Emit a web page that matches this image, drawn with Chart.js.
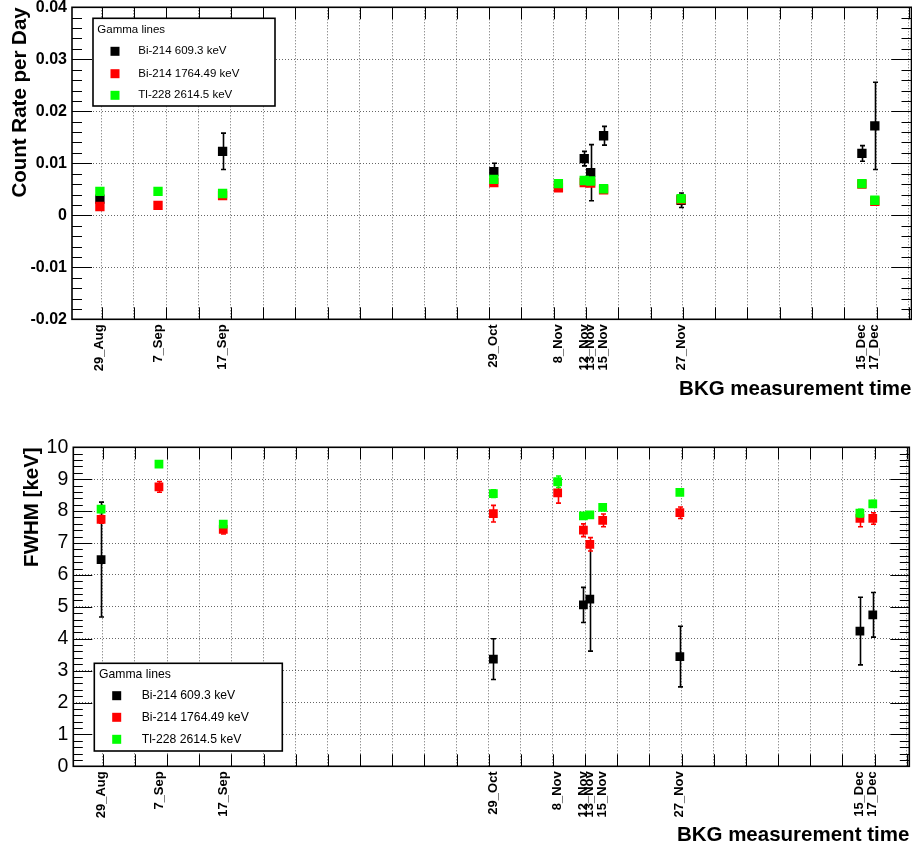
<!DOCTYPE html>
<html><head><meta charset="utf-8">
<script src="https://cdn.jsdelivr.net/npm/chart.js@4/dist/chart.umd.min.js"></script>
<style>
html,body{margin:0;padding:0;background:#fff;}
#wrap{position:relative;width:912px;height:852px;overflow:hidden;}
#c1{position:absolute;left:0;top:0;}
#c2{position:absolute;left:0;top:402px;}
</style></head><body>
<div id="wrap"><canvas id="c1" width="912" height="402"></canvas><canvas id="c2" width="912" height="450"></canvas></div>
<script>
// ---------- data ----------
const dateLabels = ['29_Aug','7_Sep','17_Sep','29_Oct','8_Nov','12_Nov','13_Nov','15_Nov','27_Nov','15_Dec','17_Dec'];
const dateDays   = [0, 9, 19, 61, 71, 75, 76, 78, 90, 118, 120];
const seriesNames = ['Bi-214 609.3 keV','Bi-214 1764.49 keV','Tl-228 2614.5 keV'];
const seriesColors = ['#000000','#ff0000','#00ff00'];

const rateBi609      = [0.0031, null, 0.0123, 0.0084, null, 0.0109, 0.0082, 0.0153, 0.0029, 0.0119, 0.0172];
const rateBi609Err   = [0.0006, null, 0.0035, 0.0016, null, 0.0014, 0.0054, 0.0018, 0.0014, 0.0015, 0.0084];
const rateBi1764     = [0.0017, 0.0019, 0.0038, 0.0063, 0.0053, 0.0063, 0.0062, 0.0049, 0.0030, 0.0060, 0.0027];
const rateBi1764Err  = [0.0004, 0.0004, 0.0004, 0.0004, 0.0004, 0.0004, 0.0004, 0.0004, 0.0004, 0.0004, 0.0004];
const rateTl2614     = [0.0046, 0.0046, 0.0042, 0.0069, 0.0061, 0.0067, 0.0066, 0.0051, 0.0032, 0.0061, 0.0029];
const rateTl2614Err  = [0.0003, 0.0003, 0.0003, 0.0003, 0.0003, 0.0003, 0.0003, 0.0003, 0.0003, 0.0003, 0.0003];

const fwhmBi609      = [6.48, null, null, 3.36, null, 5.06, 5.24, null, 3.44, 4.24, 4.75];
const fwhmBi609Err   = [1.80, null, null, 0.64, null, 0.55, 1.63, null, 0.95, 1.06, 0.70];
const fwhmBi1764     = [7.74, 8.76, 7.43, 7.92, 8.57, 7.40, 6.96, 7.71, 7.95, 7.77, 7.77];
const fwhmBi1764Err  = [0.12, 0.17, 0.15, 0.26, 0.32, 0.20, 0.21, 0.20, 0.18, 0.26, 0.18];
const fwhmTl2614     = [8.06, 9.47, 7.59, 8.55, 8.92, 7.85, 7.88, 8.12, 8.59, 7.94, 8.23];
const fwhmTl2614Err  = [0.10, 0.08, 0.08, 0.12, 0.18, 0.10, 0.10, 0.10, 0.08, 0.12, 0.10];

const rateTicks      = [-0.02, -0.01, 0, 0.01, 0.02, 0.03, 0.04];
const rateTickLabels = ['-0.02','-0.01','0','0.01','0.02','0.03','0.04'];
const fwhmTicks      = [0,1,2,3,4,5,6,7,8,9,10];
const fwhmTickLabels = ['0','1','2','3','4','5','6','7','8','9','10'];

// ---------- helpers ----------
const FAMILY = "'Liberation Sans', Arial, Helvetica, sans-serif";
const X_MIN = -4.32, X_MAX = 125.68, X_GRID_START = 0.27, X_GRID_STEP = 5;
const gridDays = [];
for (let v = X_GRID_START; v < X_MAX; v += X_GRID_STEP) gridDays.push(+v.toFixed(2));
const GRID_COLOR = 'rgba(0,0,0,0.6)';

function pts(vals, errs) {
  const out = [];
  vals.forEach((v, i) => { if (v !== null) out.push({x: dateDays[i], y: v, err: errs[i] || 0}); });
  return out;
}

const rootFrame = {
  id: 'rootFrame',
  beforeDatasetsDraw(chart, args, o) {
    const {ctx, chartArea: a, scales: {x, y}} = chart;
    ctx.save();
    ctx.strokeStyle = '#000';
    ctx.lineWidth = 1;
    const n = Math.round((o.yMax - o.yMin) / o.yMinor);
    const per = Math.round(o.yMajor / o.yMinor);
    for (let k = 0; k <= n; k++) {
      const v = o.yMin + k * o.yMinor;
      const py = Math.round(y.getPixelForValue(v)) + 0.5;
      const len = (k % per === 0) ? o.yMajorLen : o.yMinorLen;
      ctx.beginPath();
      ctx.moveTo(a.left, py); ctx.lineTo(a.left + len, py);
      ctx.moveTo(a.right - len, py); ctx.lineTo(a.right, py);
      ctx.stroke();
    }
    gridDays.forEach(v => {
      const px = Math.round(x.getPixelForValue(v)) + 0.5;
      ctx.beginPath();
      ctx.moveTo(px, a.bottom); ctx.lineTo(px, a.bottom - o.xLen);
      ctx.moveTo(px, a.top); ctx.lineTo(px, a.top + o.xLen);
      ctx.stroke();
    });
    ctx.lineWidth = 1.6;
    ctx.strokeRect(a.left, a.top, a.right - a.left, a.bottom - a.top);
    ctx.restore();
  }
};

const errorBars = {
  id: 'errorBars',
  beforeDatasetDraw(chart, args) {
    const {ctx, chartArea: a} = chart;
    const ds = chart.data.datasets[args.index];
    const meta = args.meta;
    const ys = chart.scales[meta.yAxisID];
    ctx.save();
    ctx.beginPath();
    ctx.rect(a.left, a.top, a.right - a.left, a.bottom - a.top);
    ctx.clip();
    ctx.strokeStyle = ds.backgroundColor;
    ctx.lineWidth = 1.6;
    meta.data.forEach((el, i) => {
      const p = ds.data[i];
      if (!p || !p.err) return;
      const x = Math.round(el.x) + 0.5;
      const y1 = ys.getPixelForValue(p.y + p.err);
      const y2 = ys.getPixelForValue(p.y - p.err);
      ctx.beginPath();
      ctx.moveTo(x, y1); ctx.lineTo(x, y2);
      ctx.moveTo(x - 2.5, y1); ctx.lineTo(x + 2.5, y1);
      ctx.moveTo(x - 2.5, y2); ctx.lineTo(x + 2.5, y2);
      ctx.stroke();
    });
    ctx.restore();
  }
};

const boxLegend = {
  id: 'boxLegend',
  afterDraw(chart, args, o) {
    const {ctx} = chart;
    ctx.save();
    ctx.fillStyle = '#fff';
    ctx.fillRect(o.left, o.top, o.width, o.height);
    ctx.strokeStyle = '#000';
    ctx.lineWidth = 1.6;
    ctx.strokeRect(o.left, o.top, o.width, o.height);
    ctx.fillStyle = '#000';
    ctx.font = o.fontSize + 'px ' + FAMILY;
    ctx.textBaseline = 'middle';
    ctx.textAlign = 'left';
    ctx.fillText(o.title, o.left + o.titleDx, o.top + o.titleDy);
    chart.data.datasets.forEach((ds, i) => {
      const cy = o.top + o.rowDy[i];
      ctx.fillStyle = ds.backgroundColor;
      ctx.fillRect(o.left + o.markerDx - o.markerSize / 2, cy - o.markerSize / 2, o.markerSize, o.markerSize);
      ctx.fillStyle = '#000';
      ctx.fillText(ds.label, o.left + o.textDx, cy);
    });
    ctx.restore();
  }
};

function makeChart(canvas, cfg) {
  const datasets = cfg.series.map((s, i) => ({
    label: seriesNames[i],
    data: pts(s[0], s[1]),
    backgroundColor: seriesColors[i],
    borderColor: seriesColors[i],
    pointStyle: 'rect',
    pointRadius: cfg.pointRadius,
    pointHoverRadius: cfg.pointRadius,
    pointBorderWidth: 0,
    showLine: false,
    order: 3 - i
  }));
  return new Chart(canvas, {
    type: 'scatter',
    data: {datasets},
    plugins: [rootFrame, errorBars, boxLegend],
    options: {
      responsive: false,
      devicePixelRatio: 1,
      animation: false,
      events: [],
      layout: {padding: cfg.padding, autoPadding: false},
      plugins: {
        legend: {display: false},
        tooltip: {enabled: false},
        rootFrame: cfg.frame,
        boxLegend: cfg.legend
      },
      scales: {
        x: {
          type: 'linear', min: X_MIN, max: X_MAX,
          afterBuildTicks: s => {
            s.ticks = gridDays.map(v => ({value: v})).concat(dateDays.map(v => ({value: v})))
              .sort((a, b) => a.value - b.value);
          },
          afterFit: s => { s.height = cfg.xHeight; s.paddingLeft = 0; s.paddingRight = 0; s.paddingTop = 0; s.paddingBottom = 0; },
          ticks: {
            autoSkip: false, minRotation: 90, maxRotation: 90, padding: 5,
            color: '#000', font: {family: FAMILY, size: 13, weight: 'bold'},
            callback: v => { const i = dateDays.indexOf(v); return i >= 0 ? dateLabels[i] : ''; }
          },
          grid: {
            drawTicks: false, lineWidth: 1,
            color: c => (c.tick && gridDays.indexOf(c.tick.value) >= 0) ? GRID_COLOR : 'rgba(0,0,0,0)'
          },
          border: {display: false, dash: [1, 2]},
          title: {
            display: true, text: 'BKG measurement time', align: 'end', color: '#000',
            font: {family: FAMILY, size: 20.5, weight: 'bold'}, padding: {top: 0, bottom: 0}
          }
        },
        y: {
          type: 'linear', min: cfg.yTicks[0], max: cfg.yTicks[cfg.yTicks.length - 1],
          afterBuildTicks: s => { s.ticks = cfg.yTicks.map(v => ({value: v})); },
          afterFit: s => { s.width = cfg.yWidth; s.paddingLeft = 0; s.paddingRight = 0; s.paddingTop = 0; s.paddingBottom = 0; },
          ticks: {
            padding: 5, color: '#000', font: cfg.yTickFont,
            callback: v => cfg.yTickLabels[cfg.yTicks.indexOf(v)]
          },
          grid: {drawTicks: false, lineWidth: 1, color: GRID_COLOR},
          border: {display: false, dash: [1, 2]},
          title: {
            display: true, text: cfg.yTitle, align: 'end', color: '#000',
            font: {family: FAMILY, size: 20.5, weight: 'bold'}, padding: {top: cfg.yTitlePad, bottom: 0}
          }
        }
      }
    }
  });
}

makeChart(document.getElementById('c1'), {
  series: [[rateBi609, rateBi609Err], [rateBi1764, rateBi1764Err], [rateTl2614, rateTl2614Err]],
  pointRadius: 6.6,
  padding: {left: 0, top: 7.3, right: 0.5, bottom: 0},
  xHeight: 82.7, yWidth: 72,
  yTicks: rateTicks, yTickLabels: rateTickLabels,
  yTickFont: {family: FAMILY, size: 16, weight: 'bold'},
  yTitle: 'Count Rate per Day', yTitlePad: 7.7,
  frame: {yMin: -0.02, yMax: 0.04, yMajor: 0.01, yMinor: 0.002, yMajorLen: 20, yMinorLen: 10, xLen: 12},
  legend: {left: 93, top: 18.3, width: 182, height: 87.7, title: 'Gamma lines', fontSize: 11.5,
           titleDx: 4.3, titleDy: 12, rowDy: [33, 55.4, 77], markerDx: 22, textDx: 45.3, markerSize: 9}
});

makeChart(document.getElementById('c2'), {
  series: [[fwhmBi609, fwhmBi609Err], [fwhmBi1764, fwhmBi1764Err], [fwhmTl2614, fwhmTl2614Err]],
  pointRadius: 6.2,
  padding: {left: 0, top: 45.3, right: 2.7, bottom: 4.7},
  xHeight: 81, yWidth: 73.3,
  yTicks: fwhmTicks, yTickLabels: fwhmTickLabels,
  yTickFont: {family: FAMILY, size: 19.5, weight: 'normal'},
  yTitle: 'FWHM [keV]', yTitlePad: 19.7,
  frame: {yMin: 0, yMax: 10, yMajor: 1, yMinor: 0.2, yMajorLen: 19, yMinorLen: 9.5, xLen: 12},
  legend: {left: 94.3, top: 261.3, width: 188, height: 87.7, title: 'Gamma lines', fontSize: 12.2,
           titleDx: 4.7, titleDy: 11.7, rowDy: [32.4, 54, 76], markerDx: 22.4, textDx: 47.4, markerSize: 9}
});
</script>
</body></html>
